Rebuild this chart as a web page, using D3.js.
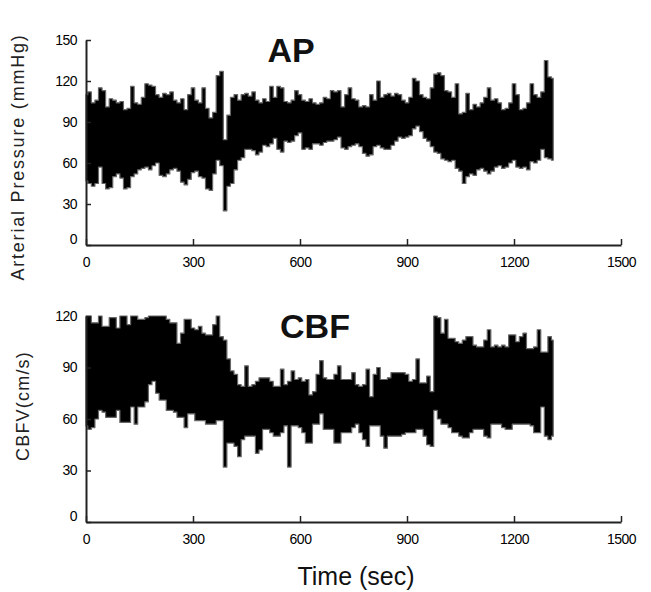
<!DOCTYPE html>
<html>
<head>
<meta charset="utf-8">
<script src="https://cdn.jsdelivr.net/npm/d3@7"></script>
<style>
  body { margin: 0; background: #fff; }
  svg { font-family: Arial, "Liberation Sans", sans-serif; }
</style>
</head>
<body>
<script>
// sample times, every 10 s from 0 to 1310
const times = d3.range(0, 1311, 10);

// envelope of the arterial pressure trace (mmHg)
const apUpper = [110,112,104,106,115,113,101,107,106,104,105,99,100,116,104,103,108,118,117,116,
  110,108,111,110,112,106,104,107,99,110,115,106,104,115,100,93,97,124,127,77,
  95,108,110,106,110,111,109,112,106,104,107,105,116,108,116,115,105,104,106,113,
  110,106,105,107,104,103,104,108,107,113,112,113,101,110,115,107,106,101,102,101,
  110,106,120,108,110,111,109,111,110,106,104,108,122,120,110,108,107,115,125,126,
  124,113,112,108,118,96,97,111,99,103,101,104,108,115,106,107,104,99,100,104,
  118,110,99,100,104,118,110,108,112,135,123,122];
const apLower = [47,45,43,45,57,45,41,42,50,52,49,41,42,50,52,55,56,57,55,58,
  60,51,50,52,55,56,54,46,44,48,53,54,50,49,41,40,52,62,58,25,
  43,45,55,62,64,70,70,69,66,68,73,72,74,78,70,68,76,75,76,80,
  82,70,71,70,74,74,73,75,76,76,77,79,71,70,72,73,74,72,67,65,
  66,72,73,71,70,70,73,76,79,78,79,80,85,87,83,78,76,72,68,67,
  63,62,61,62,56,54,45,50,52,51,55,56,54,52,54,57,58,56,57,60,
  62,57,56,57,55,61,60,62,70,64,63,62];

// envelope of the cerebral blood flow velocity trace (cm/s)
const cbfUpper = [120,120,116,116,120,114,114,119,119,113,120,120,115,120,120,118,118,119,120,120,
  120,120,120,118,116,116,104,110,118,118,113,112,114,110,109,109,115,120,108,106,
  95,88,86,80,79,91,79,80,82,84,84,84,82,79,79,89,80,82,88,83,
  84,82,83,74,76,86,94,84,83,83,86,91,83,83,83,87,80,79,80,89,
  73,86,90,83,83,84,87,87,87,87,86,82,83,95,81,81,85,76,120,119,
  110,118,107,107,105,104,106,108,108,103,102,102,106,112,102,103,102,103,102,109,
  109,105,108,110,101,101,102,112,99,99,108,106];
const cbfLower = [56,54,55,60,65,64,61,61,61,65,58,58,58,67,57,67,67,70,80,82,
  75,71,71,65,65,64,61,61,55,63,63,59,59,59,57,57,57,59,59,32,
  46,46,44,38,48,50,50,50,40,42,54,54,52,50,50,52,56,32,56,56,
  55,52,46,46,57,57,63,54,54,54,46,46,52,52,52,55,57,52,48,44,
  56,56,56,50,43,50,50,50,50,51,52,52,52,54,54,50,45,44,65,60,
  57,57,55,52,52,50,49,49,52,54,54,54,50,49,57,57,57,55,54,54,
  57,57,57,57,57,56,52,52,67,50,48,50];

const xTicks = [0, 300, 600, 900, 1200, 1500];
const apTicks = [0, 30, 60, 90, 120, 150];
const cbfTicks = [0, 30, 60, 90, 120];

const width = 651, height = 592;
const svg = d3.select("body").append("svg")
  .attr("width", width)
  .attr("height", height);

const x = d3.scaleLinear().domain([0, 1500]).range([86, 621]);

function panel(top, bottom, yMax, yTicks, upper, lower, title, titleX, yLabel, yLabelX, yLabelY, labelSpacing) {
  const y = d3.scaleLinear().domain([0, yMax]).range([bottom, top]);
  const rows = times.map((t, i) => ({t: t, hi: upper[i], lo: lower[i]}));

  const area = d3.area()
    .curve(d3.curveStep)
    .x(d => x(d.t))
    .y0(d => y(d.lo))
    .y1(d => y(d.hi));

  svg.append("path")
    .datum(rows)
    .attr("d", area)
    .attr("fill", "#000")
    .attr("stroke", "#666")
    .attr("stroke-width", 1.2)
    .attr("stroke-linejoin", "round");

  const xAxis = svg.append("g")
    .attr("transform", "translate(0," + bottom + ")")
    .call(d3.axisBottom(x).tickValues(xTicks).tickFormat(d3.format("d"))
      .tickSizeInner(-6).tickSizeOuter(0).tickPadding(12));
  const yAxis = svg.append("g")
    .attr("transform", "translate(86,0)")
    .call(d3.axisLeft(y).tickValues(yTicks).tickFormat(d3.format("d"))
      .tickSizeInner(-5).tickSizeOuter(0).tickPadding(9));

  [xAxis, yAxis].forEach(g => {
    g.select(".domain").attr("stroke", "#222").attr("stroke-width", 2);
    g.selectAll(".tick line").attr("stroke", "#222").attr("stroke-width", 1.5);
    g.selectAll(".tick text").attr("fill", "#000").attr("font-size", 14)
      .attr("font-family", "Arial, 'Liberation Sans', sans-serif")
      .attr("letter-spacing", -0.5);
  });
  // zero of the y axis sits a bit above the corner
  yAxis.selectAll(".tick").filter(d => d === 0).select("text").attr("dy", "-0.1em");

  svg.append("text")
    .attr("x", titleX)
    .attr("y", top + 22)
    .attr("font-size", 34)
    .attr("font-weight", "bold")
    .attr("fill", "#111")
    .attr("text-anchor", "middle")
    .text(title);

  svg.append("text")
    .attr("transform", "translate(" + yLabelX + "," + yLabelY + ") rotate(-90)")
    .attr("text-anchor", "middle")
    .attr("font-size", 18)
    .attr("letter-spacing", labelSpacing)
    .attr("fill", "#222")
    .text(yLabel);
}

panel(40, 245, 150, apTicks, apUpper, apLower, "AP", 291, "Arterial Pressure (mmHg)", 24, 157, 1.8);
panel(316, 522, 120, cbfTicks, cbfUpper, cbfLower, "CBF", 315, "CBFV(cm/s)", 29, 406, 1.2);

svg.append("text")
  .attr("x", 356)
  .attr("y", 585)
  .attr("text-anchor", "middle")
  .attr("font-size", 25)
  .attr("fill", "#111")
  .text("Time (sec)");
</script>
</body>
</html>
